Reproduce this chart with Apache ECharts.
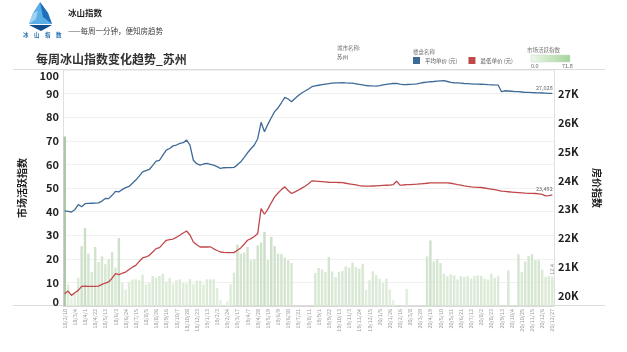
<!DOCTYPE html>
<html>
<head>
<meta charset="utf-8">
<script src="https://cdn.jsdelivr.net/npm/echarts@6/dist/echarts.min.js"></script>
<style>
  html, body { margin: 0; padding: 0; background: #fff; }
  #main { width: 627px; height: 352px; }
</style>
</head>
<body>
<div id="main"></div>
<script>
// 周度日期：18/2/10 起，每周日，缺几周数据
var skipWeeks = ['18/3/11', '18/11/4', '18/11/11', '18/11/18', '18/11/25', '18/12/2']
var weeks = ['18/2/10']
;(function () {
  var d = new Date(Date.UTC(2018, 1, 18))
  var end = new Date(Date.UTC(2020, 11, 27))
  while (d <= end) {
    var s = String(d.getUTCFullYear()).slice(2) + '/' + (d.getUTCMonth() + 1) + '/' + d.getUTCDate()
    if (skipWeeks.indexOf(s) < 0) weeks.push(s)
    d = new Date(d.getTime() + 7 * 86400000)
  }
})()

// 市场活跃指数（左轴）
var activity = [
  71.8, 9.2, 4, 6, 12, 25.4, 33, 22.2, 14.4, 25, 18.6, 21, 17.7, 19.8, 22.9, 16.3, 28.8, 9.7, 7, 10.1,
  11.2, 11.3, 10.9, 13.3, 9.2, 9.7, 12.7, 12, 12.7, 13.7, 10.4, 11.8, 9.5, 10.9, 11.3, 9.8, 9.5, 11.4, 9.2, 10.7,
  10.7, 9.2, 11.3, 11.3, 11.3, 7.6, 2.4, 0, 2, 9.2, 14.1, 26, 22.2, 22.6, 25, 19.4, 19.8, 25.7, 26.9, 31.4,
  19.4, 29.3, 25.4, 22.2, 22, 20.5, 19.4, 18.2, 0, 0, 0, 0, 0, 0, 14, 16.1, 15.5, 14.4, 20.8, 14.7,
  12.3, 14.4, 14.8, 16.8, 16.3, 18.4, 16.5, 15.8, 17.9, 6.9, 10.9, 14.7, 13, 11.6, 9.7, 11.6, 7, 2.4, 0, 0,
  0.6, 7.3, 0, 0, 0, 0, 0, 21, 27.8, 18.9, 20, 18.2, 13.7, 12.6, 13.4, 13, 11.2, 12.6, 12.3, 12.6,
  11.6, 12.7, 13, 12.7, 11.6, 11.2, 13.7, 12, 12.6, 0, 0, 15.1, 0, 0, 21.9, 14.4, 18.9, 21.2, 21.9, 19.4,
  19.4, 15.4, 12.3, 12.7, 12.4
]

// 平均单价（元）
var avgPrice = [
  22940, 22920, 22900, 22980, 23160, 23080, 23190, 23200, 23205, 23210, 23216, 23280, 23370, 23365, 23480, 23620, 23600, 23680, 23750, 23790,
  23900, 24010, 24150, 24296, 24340, 24380, 24520, 24670, 24700, 24880, 25050, 25110, 25200, 25230, 25290, 25310, 25400, 25230, 24700, 24580,
  24530, 24570, 24590, 24560, 24530, 24480, 24415, 24440, 24445, 24445, 24450, 24540, 24645, 24800, 24960, 25100, 25230, 25450, 26020, 25690,
  25950, 26180, 26390, 26520, 26700, 26890, 26830, 26735, 26850, 26950, 27040, 27108, 27180, 27258, 27290, 27310, 27330, 27350, 27365, 27380,
  27390, 27395, 27397, 27390, 27385, 27380, 27360, 27340, 27320, 27300, 27290, 27285, 27282, 27300, 27320, 27340, 27360, 27370, 27376, 27350,
  27330, 27335, 27341, 27350, 27360, 27380, 27405, 27420, 27432, 27440, 27450, 27460, 27467, 27440, 27410, 27397, 27390, 27380, 27370, 27365,
  27360, 27352, 27350, 27345, 27340, 27330, 27325, 27320, 27317, 27084, 27118, 27110, 27100, 27090, 27085, 27075, 27065, 27060, 27055, 27049,
  27045, 27040, 27035, 27030, 27028
]

// 最低单价（元）
var minPrice = [
  20058, 20150, 20000, 20090, 20174, 20314, 20320, 20310, 20310, 20314, 20320, 20380, 20430, 20465, 20600, 20756, 20720, 20770, 20812, 20900,
  20980, 21045, 21180, 21300, 21336, 21394, 21510, 21627, 21662, 21790, 21916, 21941, 21960, 22020, 22091, 22170, 22240, 22100, 21857, 21760,
  21683, 21683, 21683, 21690, 21620, 21560, 21509, 21495, 21490, 21486, 21486, 21568, 21650, 21780, 21916, 21975, 22050, 22150, 23020, 22822,
  23000, 23220, 23425, 23560, 23680, 23774, 23650, 23543, 23600, 23659, 23730, 23798, 23880, 23983, 23975, 23965, 23955, 23945, 23935, 23930,
  23928, 23927, 23920, 23900, 23880, 23860, 23840, 23820, 23805, 23798, 23800, 23805, 23810, 23820, 23825, 23830, 23833, 23850, 23972, 23833,
  23840, 23850, 23855, 23862, 23868, 23880, 23890, 23900, 23910, 23913, 23913, 23915, 23915, 23913, 23900, 23880, 23850, 23833, 23810, 23790,
  23775, 23765, 23760, 23753, 23735, 23715, 23695, 23675, 23655, 23624, 23615, 23605, 23595, 23585, 23575, 23565, 23555, 23550, 23545, 23543,
  23530, 23510, 23460, 23470, 23492
]

var leftTicks = [0, 10, 20, 30, 40, 50, 60, 70, 80, 90, 100]
var rightTicks = ['20K', '21K', '22K', '23K', '24K', '25K', '26K', '27K']

var myChart = echarts.init(document.getElementById('main'))

var last = weeks.length - 1
var barData = activity.map(function (v, i) {
  if (i !== last) return v
  return {
    value: v,
    label: { show: true, position: 'top', rotate: 90, align: 'left', verticalAlign: 'middle', distance: 2, fontSize: 5.5, color: '#888' }
  }
})

function endMark(v) {
  return {
    symbolSize: 0,
    silent: true,
    label: {
      show: true, position: 'top', distance: 3, offset: [-8, 0], fontSize: 5.5, color: '#666',
      formatter: function () { return v.toLocaleString('en-US') }
    },
    data: [{ coord: [last, v], value: v }]
  }
}

var T = function (x, y, text, size, color, weight) {
  return { type: 'text', x: x, y: y, style: { text: text, fontSize: size, fill: color || '#555', fontWeight: weight || 'normal', fontFamily: '"Noto Sans CJK SC", sans-serif' } }
}

var option = {
  animation: false,
  textStyle: { fontFamily: '"Noto Sans CJK SC", "Noto Sans", sans-serif' },
  grid: { left: 63, right: 73, top: 70, bottom: 46 },
  legend: {
    data: ['平均单价 (元)', '最低单价 (元)'],
    left: 413, top: 57,
    icon: 'rect', itemWidth: 7, itemHeight: 7, itemGap: 11,
    textStyle: { fontSize: 5.5, color: '#555' },
    selectedMode: false, padding: 0
  },
  visualMap: {
    show: false, type: 'continuous', seriesIndex: 0, dimension: 1,
    min: 0, max: 71.8,
    inRange: { color: ['#e6f2e1', '#a9c6a7'] }
  },
  xAxis: {
    type: 'category',
    data: weeks,
    boundaryGap: true,
    axisLine: { lineStyle: { color: '#d8d8d8' } },
    axisTick: { show: false },
    axisLabel: { interval: 2, rotate: 90, fontSize: 5.5, color: '#999', margin: 3 }
  },
  yAxis: [{
    type: 'value',
    min: 0, max: 100, interval: 10,
    name: '市场活跃指数', nameLocation: 'middle', nameGap: 36, nameRotate: 90,
    nameTextStyle: { fontSize: 10, fontWeight: 'bold', color: '#222' },
    axisLine: { show: true, lineStyle: { color: '#e0e0e0' } },
    axisTick: { show: false },
    axisLabel: {
      fontSize: 11, fontWeight: 'bold', color: '#222', margin: 4,
      formatter: function (v) {
        if (leftTicks.indexOf(v) < 0) return ''
        if (v === 100) return '{top|100}'
        if (v === 0) return '{bot|0}'
        return String(v)
      },
      rich: {
        top: { fontSize: 11, fontWeight: 'bold', color: '#222', padding: [11, 0, 0, 0] },
        bot: { fontSize: 11, fontWeight: 'bold', color: '#222', padding: [0, 0, 9, 0] }
      }
    },
    splitLine: { lineStyle: { color: '#f0f0f0' } }
  }, {
    type: 'value',
    min: 19630, max: 27840, splitNumber: 8,
    name: '房价指数', nameLocation: 'middle', nameGap: 38, nameRotate: -90,
    nameTextStyle: { fontSize: 10, fontWeight: 'bold', color: '#222' },
    axisLine: { show: true, lineStyle: { color: '#e0e0e0' } },
    axisTick: { show: false },
    axisLabel: {
      fontSize: 11, fontWeight: 'bold', color: '#222', margin: 4, showMinLabel: false, showMaxLabel: false,
      formatter: function (v) {
        var s = Math.round(v / 1000) + 'K'
        return (v % 1000 === 0 && rightTicks.indexOf(s) >= 0) ? s : ''
      }
    },
    splitLine: { show: false }
  }],
  series: [{
    name: '市场活跃指数',
    type: 'bar',
    yAxisIndex: 0,
    barWidth: '72%',
    data: barData
  }, {
    name: '平均单价 (元)',
    type: 'line',
    yAxisIndex: 1,
    color: '#3e6a98',
    showSymbol: false,
    lineStyle: { width: 1.3 },
    data: avgPrice,
    markPoint: endMark(avgPrice[last])
  }, {
    name: '最低单价 (元)',
    type: 'line',
    yAxisIndex: 1,
    color: '#c0484a',
    showSymbol: false,
    lineStyle: { width: 1.3 },
    data: minPrice,
    markPoint: endMark(minPrice[last])
  }],
  graphic: [
    // 冰山 logo
    { type: 'polygon', shape: { points: [[40, 2], [33, 13], [29, 24], [52, 24], [48, 13]] }, style: { fill: '#5aaee6' } },
    { type: 'polygon', shape: { points: [[40, 2], [48, 13], [52, 24], [43, 17]] }, style: { fill: '#1c6fb8' } },
    { type: 'polygon', shape: { points: [[33, 13], [38, 11], [36, 19], [29, 24]] }, style: { fill: '#9fd2f2' } },
    { type: 'polygon', shape: { points: [[29, 25], [52, 25], [41, 31]] }, style: { fill: '#0f4f8f' } },
    T(23, 32, '冰　山　指　数', 5.5, '#1f6fb2', 'bold'),
    T(68, 9, '冰山指数', 8.5, '#222', 'bold'),
    T(68, 27, '——每周一分钟，便知房趋势', 7.5, '#444'),
    T(36, 53, '每周冰山指数变化趋势_苏州', 12, '#333', 'bold'),
    // 顶部分隔线与底线
    { type: 'line', shape: { x1: 13, y1: 69.5, x2: 605, y2: 69.5 }, style: { stroke: '#dcdcdc', lineWidth: 1 } },
    { type: 'line', shape: { x1: 13, y1: 305.5, x2: 605, y2: 305.5 }, style: { stroke: '#dcdcdc', lineWidth: 1 } },
    // 筛选 / 图例说明
    T(337, 45, '城市名称:', 5.5, '#777'),
    T(337, 54, '苏州', 5.5, '#555'),
    T(413, 49, '楼盘名称', 5.5, '#777'),
    T(527, 47, '市场活跃指数', 5.5, '#777'),
    {
      type: 'rect', shape: { x: 531, y: 55, width: 39, height: 7 },
      style: {
        fill: new echarts.graphic.LinearGradient(0, 0, 1, 0, [
          { offset: 0, color: '#eef7ea' }, { offset: 1, color: '#a4d39b' }
        ]),
        stroke: '#c8dcc4', lineWidth: 0.5
      }
    },
    T(531, 63, '0.0', 5.5, '#666'),
    T(562, 63, '71.8', 5.5, '#666')
  ]
}

myChart.setOption(option)
</script>
</body>
</html>
